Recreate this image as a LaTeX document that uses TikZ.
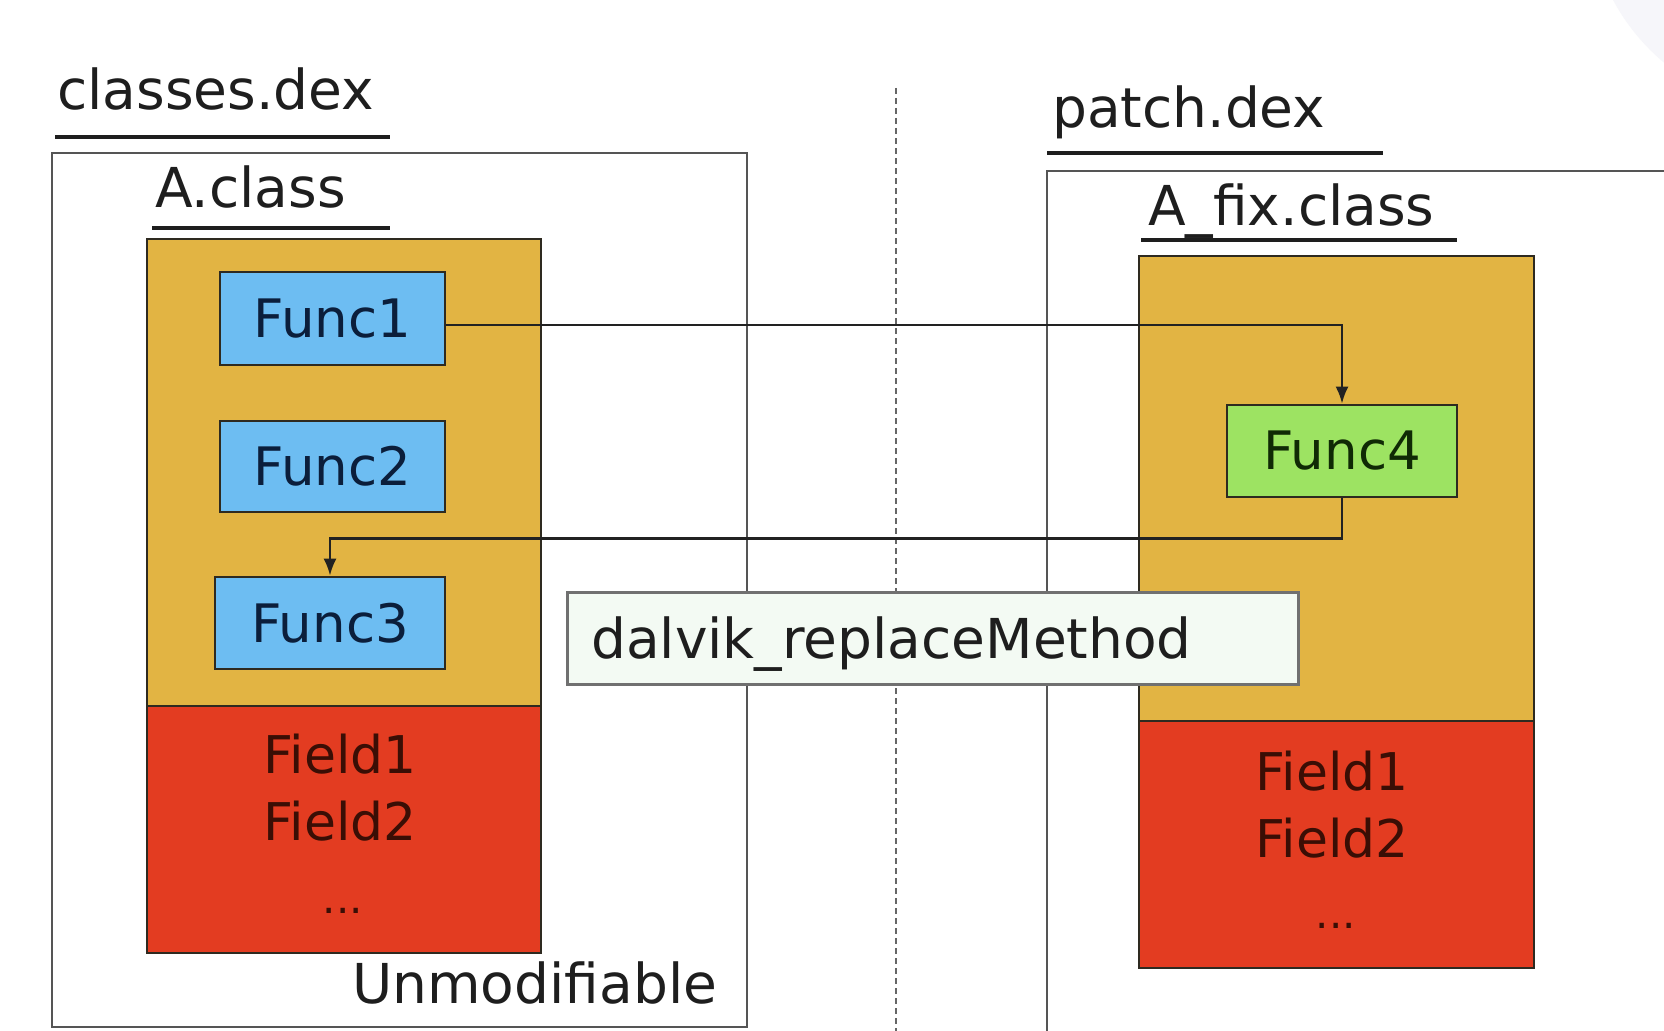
\documentclass[tikz,border=0pt]{standalone}
\usepackage{fontspec}
\setmainfont{DejaVu Sans}
\usetikzlibrary{arrows.meta}
\definecolor{orangeF}{HTML}{E2B443}
\definecolor{redF}{HTML}{E33C21}
\definecolor{blueF}{HTML}{6DBDF2}
\definecolor{greenF}{HTML}{9DE362}
\definecolor{boxline}{HTML}{2E2A20}
\definecolor{labelc}{HTML}{1E1E1E}
\definecolor{outerc}{HTML}{555555}
\definecolor{dashc}{HTML}{666666}
\definecolor{functext}{HTML}{0B1E3B}
\definecolor{fieldtext}{HTML}{3A0E05}
\definecolor{f4text}{HTML}{102A05}
\definecolor{dalvikfill}{HTML}{F3FAF3}
\definecolor{dalvikline}{HTML}{707070}
\definecolor{cornerc}{HTML}{F6F6FA}
\definecolor{connc}{HTML}{222222}
\begin{document}
\begin{tikzpicture}[x=1pt,y=-1pt,
  titlelbl/.style={anchor=base west, inner sep=0pt, text=labelc, font=\fontsize{55}{60}\selectfont},
  uline/.style={draw=labelc, line width=3.5pt},
  outerbox/.style={draw=outerc, line width=2.5pt},
  classbox/.style={draw=boxline, line width=2.5pt, fill=orangeF},
  fieldbox/.style={draw=boxline, line width=2.5pt, fill=redF},
  funcbox/.style={draw=boxline, line width=2.8pt, fill=blueF, inner sep=0pt,
     text=functext, font=\fontsize{53}{60}\selectfont},
  fieldlbl/.style={anchor=base, inner sep=0pt, text=fieldtext, font=\fontsize{52}{60}\selectfont},
  dotslbl/.style={anchor=base, inner sep=0pt, text=fieldtext, font=\fontsize{42}{50}\selectfont},
  conn/.style={draw=connc, line width=2.3pt, -{Latex[length=17pt,width=13pt]}}
]
\useasboundingbox (0,0) rectangle (1664,1030);
\fill[white] (0,0) rectangle (1664,1030);
\fill[cornerc] (1800,-100) circle (212pt);

% outer containers
\draw[outerbox] (52,153) rectangle (747,1027);
\draw[outerbox] (1047,1045) -- (1047,171) -- (1680,171);
\draw[dashc, line width=2pt, dash pattern=on 6pt off 4pt] (896,88) -- (896,1035);

% titles
\node[titlelbl] (classes) at (57,110) {classes.dex};
\draw[uline] (55,137) -- (390,137);
\node[titlelbl] (aclass) at (155,207) {A.class};
\draw[uline] (152,228) -- (390,228);
\node[titlelbl] (patch) at (1052,128) {patch.dex};
\draw[uline] (1047,153) -- (1383,153);
\node[titlelbl] (afix) at (1148,225) {A\_fix.class};
\draw[uline] (1141,240) -- (1457,240);

% class boxes
\draw[classbox] (147,239) rectangle (541,706);
\draw[fieldbox] (147,706) rectangle (541,953);
\draw[classbox] (1139,256) rectangle (1534,721);
\draw[fieldbox] (1139,721) rectangle (1534,968);

% functions
\node[funcbox, minimum width=225pt, minimum height=93pt] (f1) at (332.5,318.5) {Func1};
\node[funcbox, minimum width=225pt, minimum height=91pt] (f2) at (332.5,466.5) {Func2};
\node[funcbox, minimum width=230pt, minimum height=92pt] (f3) at (330,623) {Func3};
\node[funcbox, fill=greenF, text=f4text, minimum width=230pt, minimum height=92pt] (f4) at (1342,451) {Func4};

% fields
\node[fieldlbl] (lf1) at (340,773) {Field1};
\node[fieldlbl] (lf2) at (340,840) {Field2};
\node[dotslbl] (ldots) at (343,913) {...};
\node[fieldlbl] (rf1) at (1332,790) {Field1};
\node[fieldlbl] (rf2) at (1332,857) {Field2};
\node[dotslbl] (rdots) at (1336,928) {...};

\node[titlelbl] (unmod) at (352,1003) {Unmodifiable};

% connectors
\draw[conn] ([yshift=-6.5pt]f1.east) -| (f4.north);
\draw[conn] (f4.south) -- ++(0,40) -| (f3.north);

% dalvik label box
\node[draw=dalvikline, fill=dalvikfill, line width=3pt, minimum width=731pt, minimum height=92pt, inner sep=0pt] (dalvik) at (932.5,638) {};
\node[titlelbl] (dalvikt) at (591,658) {dalvik\_replaceMethod};
\end{tikzpicture}
\end{document}
